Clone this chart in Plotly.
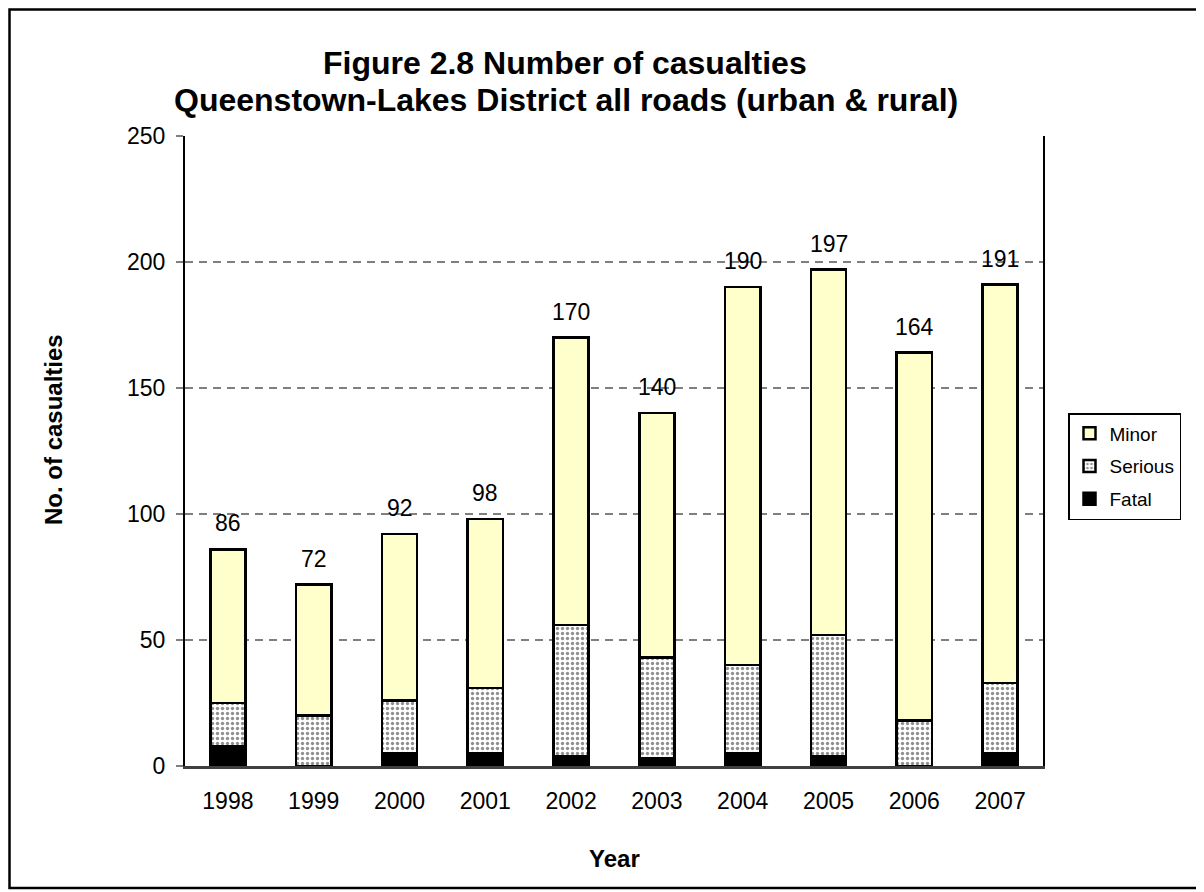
import plotly.graph_objects as go

years = ["1998", "1999", "2000", "2001", "2002", "2003", "2004", "2005", "2006", "2007"]
fatal = [8, 0, 5, 5, 4, 3, 5, 4, 0, 5]
serious = [17, 20, 21, 26, 52, 40, 35, 48, 18, 28]
minor = [61, 52, 66, 67, 114, 97, 150, 145, 146, 158]
totals = [86, 72, 92, 98, 170, 140, 190, 197, 164, 191]
y_ticks = [0, 50, 100, 150, 200, 250]

FONT = "Liberation Sans, Arial, sans-serif"
OFF = 8  # page body margin
W, H = 1204 - OFF, 892 - OFF
L, T = 185 - OFF, 136 - OFF
R = W - (1043 - OFF)
B = H - (766 - OFF)
PW, PH = W - L - R, H - T - B


def px(x):
    return (x - OFF - L) / PW


def py(y):
    return (H - B - (y - OFF)) / PH


fig = go.Figure()
line = dict(color="black", width=2.5)
fig.add_trace(go.Bar(name="Fatal", x=years, y=fatal, width=0.41, legendgroup="f", legendrank=3,
                     marker=dict(color="black", line=line)))
fig.add_trace(go.Bar(name="Serious", x=years, y=serious, width=0.41, legendgroup="s", legendrank=2,
                     marker=dict(color="white", line=line,
                                 pattern=dict(shape=".", fgcolor="#222222", bgcolor="white",
                                              size=5, solidity=0.35))))
fig.add_trace(go.Bar(name="Minor", x=years, y=minor, width=0.41, legendgroup="m", legendrank=1,
                     marker=dict(color="#FFFFCC", line=line)))

annotations = []
for i, tot in enumerate(totals):
    annotations.append(dict(x=i, y=tot, xref="x", yref="y", text=str(tot), showarrow=False,
                            yanchor="middle", yshift=26, font=dict(size=23, color="black", family=FONT)))

annotations += [
    dict(text="<b>Figure 2.8 Number of casualties</b>", x=px(565), y=py(63), xref="paper", yref="paper",
         showarrow=False, xanchor="center", yanchor="middle", font=dict(size=32, family=FONT, color="black")),
    dict(text="<b>Queenstown-Lakes District all roads (urban & rural)</b>", x=px(566), y=py(100), xref="paper",
         yref="paper", showarrow=False, xanchor="center", yanchor="middle",
         font=dict(size=32, family=FONT, color="black")),
    dict(text="<b>No. of casualties</b>", x=px(53), y=py(430), xref="paper", yref="paper", showarrow=False,
         textangle=-90, xanchor="center", yanchor="middle", font=dict(size=24, family=FONT, color="black")),
    dict(text="<b>Year</b>", x=px(614), y=py(858), xref="paper", yref="paper", showarrow=False,
         xanchor="center", yanchor="middle", font=dict(size=24, family=FONT, color="black")),
]

shapes = [
    dict(type="rect", xref="paper", yref="paper", x0=px(9.5), x1=px(1199), y0=py(888), y1=py(9.5),
         line=dict(color="black", width=2.5), fillcolor="rgba(0,0,0,0)", layer="below"),
]

fig.update_layout(
    width=W, height=H, margin=dict(l=L, r=R, t=T, b=B, autoexpand=False),
    barmode="stack",
    paper_bgcolor="white", plot_bgcolor="white",
    font=dict(family=FONT, size=23, color="black"),
    showlegend=True,
    legend=dict(x=px(1068), y=py(413), xanchor="left", yanchor="top", traceorder="grouped",
                bordercolor="black", borderwidth=1.5, bgcolor="white",
                font=dict(size=19, family=FONT, color="black"), itemwidth=30, tracegroupgap=5),
    annotations=annotations,
    shapes=shapes,
    xaxis=dict(type="category", range=[-0.5, 9.5], showline=True, linecolor="#404040", linewidth=2.5, ticks="",
               tickfont=dict(size=23), ticklabelstandoff=13, showgrid=False, zeroline=False),
    yaxis=dict(range=[0, 250], tickvals=y_ticks, showline=True, linecolor="black", linewidth=2,
               mirror=True, ticks="outside", ticklen=7, tickcolor="#808080", tickwidth=2,
               tickfont=dict(size=23), ticklabelstandoff=6,
               showgrid=True, gridcolor="#808080", gridwidth=2, griddash="8px,6px", zeroline=False),
)

fig.write_html("out.html")
